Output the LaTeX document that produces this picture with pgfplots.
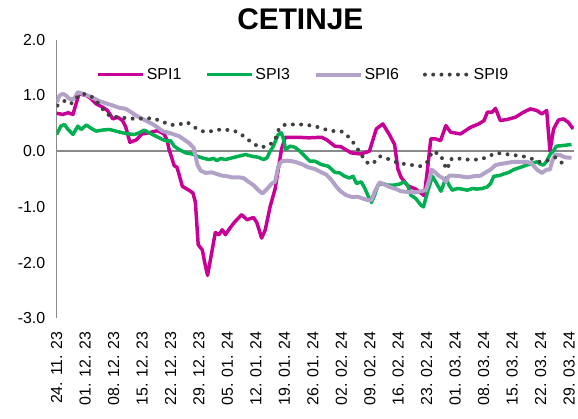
\documentclass[border=0pt]{standalone}
\usepackage{pgfplots}
\pgfplotsset{compat=1.18}
\usepackage{fontspec}
\setmainfont{Liberation Sans}
\definecolor{spiA}{RGB}{200,0,150}
\definecolor{spiB}{RGB}{0,176,80}
\definecolor{spiC}{RGB}{179,162,199}
\definecolor{spiD}{RGB}{64,64,64}
\definecolor{axgray}{RGB}{137,137,137}
\begin{document}
\begin{tikzpicture}
\path (-57pt,-99pt) rectangle (521pt,320pt);
\begin{axis}[
  at={(0pt,0pt)}, anchor=south west,
  scale only axis, width=520pt, height=280pt,
  xmin=0, xmax=127.2, ymin=-3, ymax=2,
  axis lines*=left,
  x axis line style={draw=none},
  y axis line style={axgray, line width=1.5pt},
  major tick length=0pt,
  ytick={-3,-2,-1,0,1,2},
  xtick={0,7,...,126},
  xticklabels={24. 11. 23, 01. 12. 23, 08. 12. 23, 15. 12. 23, 22. 12. 23, 29. 12. 23, 05. 01. 24, 12. 01. 24, 19. 01. 24, 26. 01. 24, 02. 02. 24, 09. 02. 24, 16. 02. 24, 23. 02. 24, 01. 03. 24, 08. 03. 24, 15. 03. 24, 22. 03. 24, 29. 03. 24},
  /pgf/number format/assume math mode=true,
  tick label style={font=\fontsize{16}{18}\selectfont, black},
  yticklabel style={/pgf/number format/fixed, /pgf/number format/fixed zerofill, /pgf/number format/precision=1, xshift=-8pt},
  xticklabel style={rotate=90, anchor=east, inner xsep=13pt},
  title={CETINJE},
  title style={font=\bfseries\fontsize{30}{34}\selectfont, at={(0.471,1)}, anchor=base, yshift=4pt},
  legend style={draw=none, fill=none, at={(0.477,0.875)}, anchor=center, legend columns=4, font=\fontsize{16}{18}\selectfont, /tikz/every even column/.append style={column sep=22pt}},
  legend image code/.code={\draw[#1] (0pt,0pt) -- (45pt,0pt);},
  every axis plot/.append style={line join=round},
]
\draw[axgray, line width=1.5pt] (axis cs:0,0) -- (axis cs:127.2,0);
\addplot[spiA, line width=3.5pt] coordinates {
(0,0.68) (1.5,0.66) (2.8,0.69) (4,0.66) (4.8,0.86) (5.5,1.03) (7.3,1.0) (8.5,0.94) (9.7,0.85) (11.3,0.79) (12.5,0.73) (13.8,0.58) (15,0.61) (16.2,0.55) (17,0.43) (18,0.16) (19.5,0.2) (21,0.31) (22.7,0.33) (24.8,0.37) (26.4,0.31) (27.2,0.19) (27.6,0.04) (28.9,-0.26) (29.6,-0.29) (30.9,-0.63) (32.5,-0.70) (33.5,-0.75) (34.1,-0.91) (34.8,-1.68) (35.8,-1.77) (36.4,-2.0) (37.1,-2.23) (38.2,-1.79) (39,-1.46) (39.9,-1.50) (40.7,-1.41) (41.5,-1.50) (42.7,-1.37) (43.9,-1.26) (45.5,-1.14) (46.8,-1.23) (48.4,-1.19) (49.2,-1.28) (50.4,-1.56) (51.3,-1.41) (52.5,-0.99) (53.7,-0.68) (54.5,-0.32) (55.3,0.04) (56.2,0.25) (57.8,0.25) (59.4,0.25) (62,0.24) (65.1,0.25) (66.5,0.2) (68.4,0.09) (69.9,0.08) (72.4,-0.03) (74.8,-0.05) (76.9,0.0) (78.6,0.40) (80.2,0.49) (81.8,0.30) (83.1,0.12) (83.9,-0.32) (84.7,-0.47) (86.3,-0.62) (88.3,-0.68) (90.4,-0.80) (91.2,-0.32) (92,0.22) (93.2,0.22) (94.4,0.19) (95.7,0.46) (96.9,0.34) (99.3,0.31) (101.8,0.43) (103.8,0.49) (105.1,0.55) (105.9,0.70) (107.1,0.70) (107.9,0.77) (109.1,0.55) (110.8,0.57) (112.8,0.61) (114.8,0.70) (116.5,0.76) (118.1,0.73) (119.3,0.67) (120.5,0.73) (121.3,0.0) (122.2,0.40) (123.4,0.56) (124.6,0.58) (125.8,0.52) (127,0.40)
};
\addlegendentry{SPI1}
\addplot[spiB, line width=3.5pt] coordinates {
(0,0.30) (1.0,0.45) (1.9,0.48) (2.8,0.39) (4.0,0.30) (5.2,0.45) (6.0,0.39) (7.3,0.47) (8.5,0.41) (9.7,0.36) (11.3,0.38) (13.0,0.39) (14.6,0.36) (16.2,0.33) (17.8,0.31) (19.1,0.30) (20.3,0.33) (21.5,0.38) (22.7,0.33) (24.4,0.27) (26.0,0.21) (27.2,0.18) (28.0,0.19) (28.9,0.09) (30.1,0.03) (31.7,-0.03) (33.3,-0.05) (34.6,-0.09) (35.8,-0.12) (37.4,-0.15) (38.6,-0.13) (39.4,-0.17) (40.3,-0.13) (41.5,-0.15) (43.1,-0.12) (44.7,-0.09) (46.4,-0.06) (48.0,-0.09) (49.6,-0.11) (50.9,-0.15) (51.7,-0.12) (52.5,0.0) (53.3,0.09) (54.1,0.24) (54.5,0.30) (55.2,0.33) (55.7,0.24) (56.3,0.03) (57.4,0.09) (58.6,0.07) (59.8,0.0) (61.0,-0.09) (62.3,-0.18) (63.5,-0.18) (65.1,-0.24) (66.8,-0.27) (68.4,-0.38) (69.6,-0.39) (70.8,-0.45) (72.0,-0.48) (72.9,-0.45) (73.7,-0.58) (74.9,-0.55) (75.8,-0.67) (76.5,-0.79) (77.4,-0.92) (78.2,-0.79) (79.0,-0.61) (80.2,-0.58) (81.4,-0.61) (83.0,-0.61) (84.3,-0.59) (85.5,-0.55) (86.3,-0.61) (87.1,-0.79) (88.3,-0.85) (89.6,-0.97) (90.2,-1.0) (91.2,-0.73) (92.4,-0.45) (93.2,-0.55) (94.5,-0.72) (95.7,-0.48) (96.5,-0.61) (97.3,-0.70) (98.5,-0.67) (99.7,-0.68) (101.0,-0.70) (102.2,-0.67) (103.4,-0.68) (104.6,-0.67) (105.9,-0.64) (106.7,-0.58) (107.5,-0.45) (108.7,-0.44) (109.9,-0.41) (111.2,-0.38) (112.4,-0.33) (113.6,-0.30) (114.8,-0.27) (116.0,-0.24) (117.3,-0.21) (118.1,-0.19) (118.9,-0.23) (119.7,-0.25) (120.5,-0.18) (121.3,-0.06) (122.1,0.0) (122.9,0.09) (124.2,0.10) (125.4,0.11) (126.6,0.12)
};
\addlegendentry{SPI3}
\addplot[spiC, line width=4pt] coordinates {
(0,0.88) (0.7,1.0) (1.5,1.03) (2.3,1.0) (3.1,0.94) (4.3,0.94) (5.2,1.06) (6.4,1.03) (7.6,1.0) (8.8,0.96) (10.5,0.90) (12.1,0.86) (13.8,0.82) (15.4,0.78) (17.0,0.76) (18.3,0.70) (19.5,0.64) (21.1,0.58) (22.7,0.52) (24.4,0.45) (26.0,0.36) (27.6,0.33) (29.3,0.29) (30.1,0.27) (31.1,0.22) (32.5,0.15) (33.7,0.06) (34.6,-0.24) (35.4,-0.35) (36.6,-0.39) (38.2,-0.38) (39.4,-0.41) (40.7,-0.44) (41.9,-0.45) (43.1,-0.47) (44.7,-0.47) (45.9,-0.48) (47.2,-0.55) (48.4,-0.61) (49.6,-0.70) (50.6,-0.76) (51.7,-0.68) (52.9,-0.58) (53.7,-0.55) (54.5,-0.27) (55.3,-0.18) (56.9,-0.17) (58.6,-0.19) (60.2,-0.23) (61.9,-0.29) (63.5,-0.32) (65.1,-0.38) (66.3,-0.42) (67.6,-0.52) (68.8,-0.64) (70.0,-0.73) (71.2,-0.79) (72.5,-0.82) (74.1,-0.82) (75.3,-0.85) (76.5,-0.88) (77.4,-0.88) (78.2,-0.73) (79.4,-0.56) (80.6,-0.60) (81.8,-0.64) (83.5,-0.68) (84.7,-0.72) (86.3,-0.73) (87.9,-0.74) (89.6,-0.72) (90.8,-0.70) (91.6,-0.52) (92.2,-0.33) (93.2,-0.39) (94.1,-0.45) (94.9,-0.48) (95.7,-0.55) (96.5,-0.44) (97.7,-0.44) (99.3,-0.45) (101.0,-0.47) (102.6,-0.45) (104.2,-0.44) (105.5,-0.38) (106.7,-0.33) (107.9,-0.25) (109.1,-0.23) (110.8,-0.21) (112.4,-0.19) (114.0,-0.19) (115.7,-0.19) (116.9,-0.23) (118.1,-0.33) (119.3,-0.39) (120.5,-0.33) (121.3,-0.33) (121.8,-0.19) (122.6,-0.06) (123.8,-0.07) (125.0,-0.11) (126.6,-0.12)
};
\addlegendentry{SPI6}
\addplot[spiD, line width=4pt, line cap=round, dash pattern=on 0pt off 8.3pt] coordinates {
(0.2,0.82) (2.3,0.92) (3.7,0.86) (5.4,1.0) (7.0,1.03) (8.8,0.97) (10.4,0.85) (11.7,0.72) (13.3,0.62) (15.4,0.61) (17.4,0.59) (19.6,0.58) (21.7,0.59) (23.8,0.59) (26.0,0.53) (28.0,0.47) (30.1,0.48) (32.1,0.52) (34.1,0.42) (36.2,0.35) (38.2,0.36) (40.3,0.39) (42.3,0.38) (44.3,0.35) (46.4,0.25) (48.0,0.15) (50.0,0.07) (51.9,0.09) (53.7,0.19) (54.3,0.36) (55.7,0.47) (57.8,0.48) (59.8,0.48) (61.8,0.47) (63.9,0.44) (66.1,0.39) (68.2,0.36) (70.4,0.35) (72.0,0.24) (73.4,0.11) (74.9,-0.06) (76.1,-0.2) (77.7,-0.23) (79.4,-0.09) (81.2,-0.13) (83.2,-0.19) (85.5,-0.23) (87.5,-0.25) (89.6,-0.27) (91.2,-0.19) (92.4,0.0) (94.5,-0.07) (95.3,-0.24) (96.1,-0.33) (96.7,-0.15) (98.1,-0.12) (100.1,-0.15) (102.2,-0.15) (104.2,-0.15) (106.3,-0.09) (108.1,-0.03) (110.3,-0.05) (112.4,-0.07) (114.6,-0.09) (116.6,-0.13) (118.7,-0.19) (120.6,-0.17) (122.6,-0.11) (123.4,-0.15) (124.8,-0.25)
};
\addlegendentry{SPI9}
\end{axis}
\end{tikzpicture}
\end{document}
